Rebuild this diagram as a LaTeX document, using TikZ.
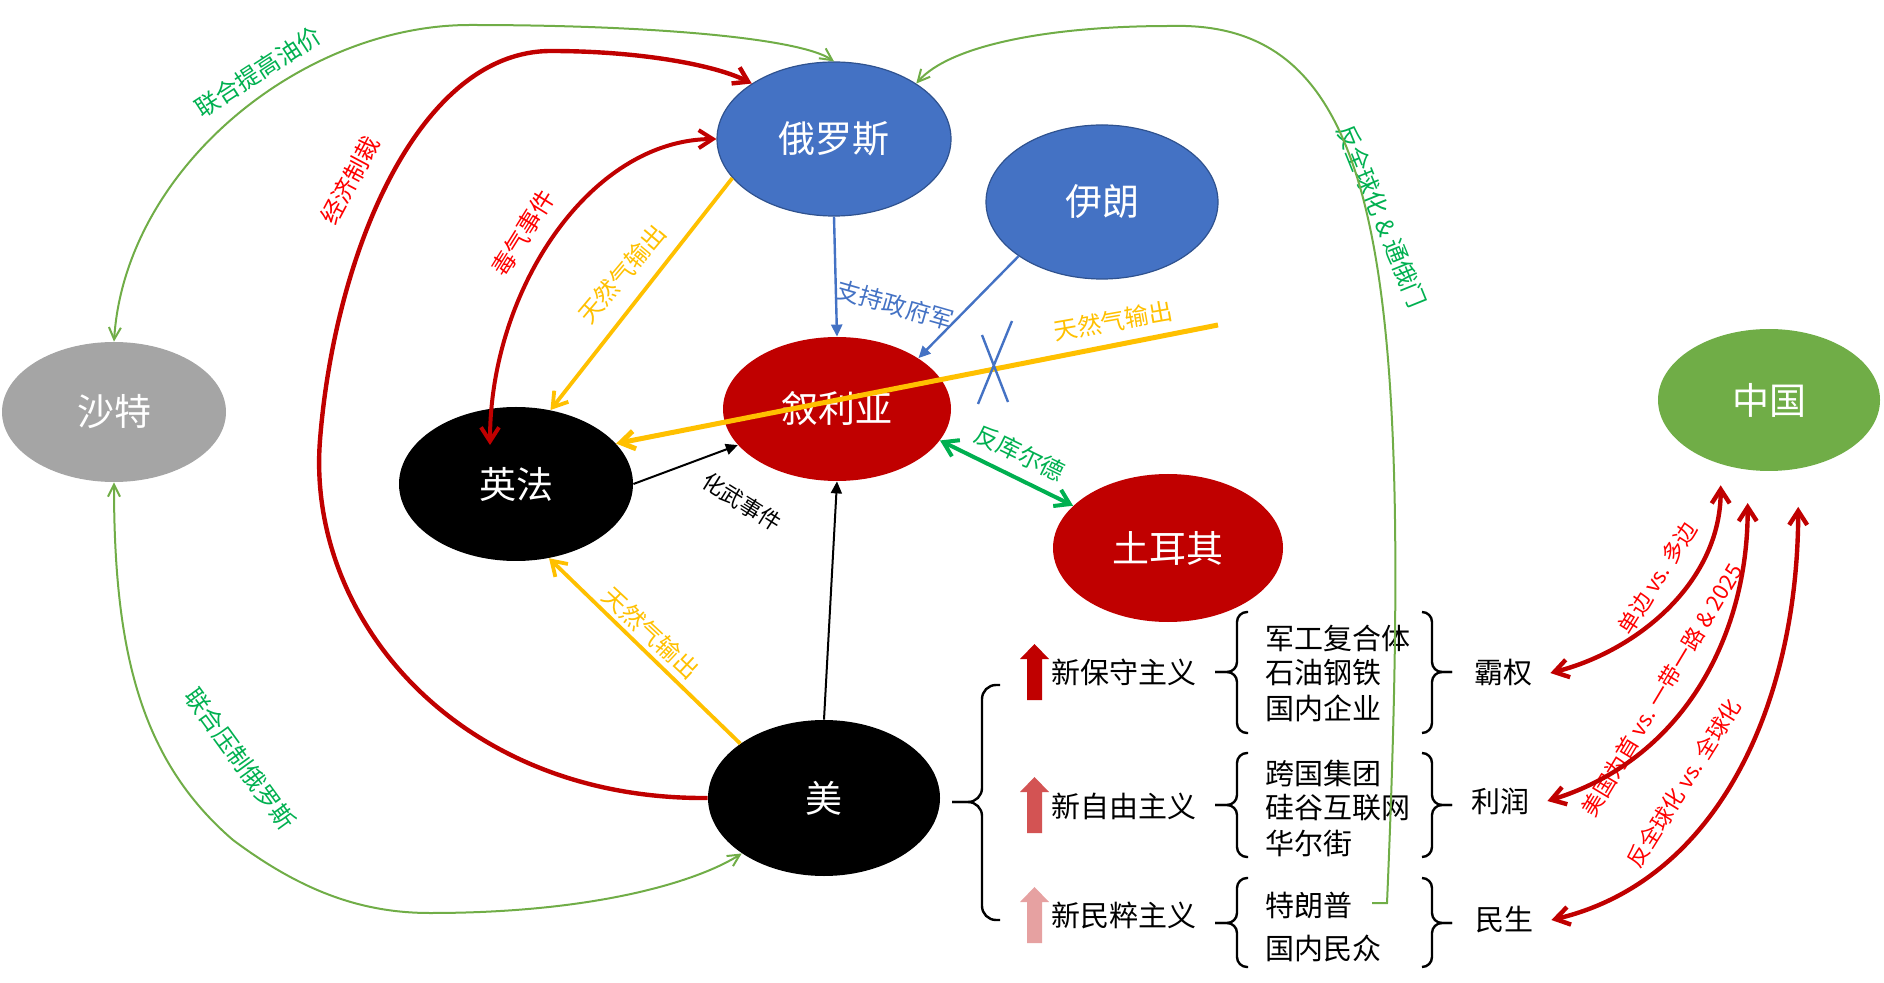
\documentclass[tikz,border=0pt]{standalone}
\usepackage{fontspec}
\setmainfont{Noto Sans CJK SC}
\usetikzlibrary{shapes.geometric,arrows.meta}

\definecolor{rusblue}{HTML}{4472C4}
\definecolor{blueedge}{HTML}{2F528F}
\definecolor{darkred}{HTML}{C00000}
\definecolor{midred}{HTML}{D35353}
\definecolor{palered}{HTML}{E6A1A1}
\definecolor{satgray}{HTML}{A5A5A5}
\definecolor{chngreen}{HTML}{70AD47}
\definecolor{txtgreen}{HTML}{00B050}
\definecolor{gasorange}{HTML}{FFC000}
\definecolor{txtred}{HTML}{FF0000}

\tikzset{
  country/.style={ellipse, inner sep=0pt, text=white, font=\fontsize{18.5}{22}\selectfont},
  lbl/.style={inner sep=0pt, font=\fontsize{12}{14}\selectfont},
  redlbl/.style={inner sep=0pt, text=txtred, font=\fontsize{11}{13}\selectfont},
  item/.style={anchor=west, inner sep=0pt, font=\fontsize{14.5}{17}\selectfont},
  goal/.style={inner sep=9pt, font=\fontsize{14.5}{17}\selectfont},
  gtip/.tip={Straight Barb[length=6pt,width=6pt]},
  otip/.tip={Straight Barb[length=7pt,width=9pt]},
  ttip/.tip={Triangle[length=6pt,width=5.5pt]},
  greenlink/.style={chngreen, line width=1pt, gtip-gtip},
  redlink/.style={darkred, line width=2.2pt, otip-otip},
  bracket/.style={line width=1.2pt, rounded corners=5pt}
}

\begin{document}
\begin{tikzpicture}[x=0.5pt, y=-0.5pt]
  \useasboundingbox (0,0) rectangle (1884,983);

  \node[country, fill=satgray, minimum width=112pt, minimum height=70pt] (sat) at (114,412) {沙特};
  \node[country, fill=rusblue, draw=blueedge, line width=0.6pt, minimum width=117pt, minimum height=77pt] (rus) at (834,139) {俄罗斯};
  \node[country, fill=rusblue, draw=blueedge, line width=0.6pt, minimum width=116pt, minimum height=77pt] (iran) at (1102,202) {伊朗};
  \node[country, fill=darkred, minimum width=114pt, minimum height=72pt] (syr) at (837,409) {叙利亚};
  \node[country, fill=black, minimum width=117pt, minimum height=77pt] (ukfr) at (516,484) {英法};
  \node[country, fill=black, minimum width=116pt, minimum height=78pt] (us) at (824,798) {美};
  \node[country, fill=darkred, minimum width=115pt, minimum height=74pt] (tur) at (1168,548) {土耳其};
  \node[country, fill=chngreen, minimum width=111pt, minimum height=71pt] (chn) at (1769,400) {中国};

  \node[item] (neocon) at (1051,672) {新保守主义};
  \node[item] (neolib) at (1051,806) {新自由主义};
  \node[item] (populist) at (1051,915) {新民粹主义};
  \node[item] (milind) at (1265,638) {军工复合体};
  \node[item] (oilsteel) at (1265,673) {石油钢铁};
  \node[item] (domfirm) at (1265,708) {国内企业};
  \node[item] (multinat) at (1265,773) {跨国集团};
  \node[item] (silicon) at (1265,808) {硅谷互联网};
  \node[item] (wallst) at (1265,843) {华尔街};
  \node[item] (trump) at (1265,905) {特朗普};
  \node[item] (public) at (1265,948) {国内民众};
  \node[goal] (hegemony) at (1503,673) {霸权};
  \node[goal] (profit) at (1500,801) {利润};
  \node[goal] (people) at (1504,920) {民生};

  \node[lbl, text=txtgreen, rotate=33] (oilprice) at (258,72) {联合提高油价};
  \node[lbl, text=txtred, rotate=62] (sanction) at (350,180) {经济制裁};
  \node[lbl, text=txtred, rotate=58] (poison) at (523,233) {毒气事件};
  \node[lbl, text=gasorange, rotate=50] (gasrus) at (622,274) {天然气输出};
  \node[lbl, text=rusblue, rotate=-16] (support) at (895,305) {支持政府军};
  \node[lbl, text=gasorange, rotate=10] (gasmid) at (1113,321) {天然气输出};
  \node[lbl, text=black, rotate=-32, font=\fontsize{11}{13}\selectfont] (chem) at (742,502) {化武事件};
  \node[lbl, text=gasorange, rotate=-43] (gasus) at (651,633) {天然气输出};
  \node[lbl, text=txtgreen, rotate=-54] (contain) at (240,759) {联合压制俄罗斯};
  \node[lbl, text=txtgreen, rotate=-68] (antiglob) at (1382,216) {反全球化 \& 通俄门};
  \node[lbl, text=txtgreen, rotate=-26] (kurd) at (1020,453) {反库尔德};
  \node[redlbl, rotate=58] (unimulti) at (1657,578) {单边 vs. 多边};
  \node[redlbl, rotate=59] (beltroad) at (1662,690) {美国为首 vs. 一带一路 \& 2025};
  \node[redlbl, rotate=58] (globvs) at (1684,783) {反全球化 vs. 全球化};

  \draw[greenlink] (sat.north) .. controls (125,170) and (300,25) .. (470,25) .. controls (650,25) and (800,38) .. (rus.north);
  \draw[greenlink] (sat.south) .. controls (114,650) and (140,760) .. (233,840) .. controls (300,890) and (360,913) .. (430,913) .. controls (600,913) and (700,880) .. (us.214);

  \draw[darkred, line width=2.2pt, -otip] (us.west) .. controls (460,800) and (306,620) .. (320,440) .. controls (335,250) and (420,51) .. (551,51) .. controls (640,51) and (715,65) .. (rus.146);
  \coordinate (ukin) at (490,445);
  \draw[darkred, line width=2pt, otip-otip] (ukin) .. controls (490,290) and (590,140) .. (rus.west);

  \draw[gasorange, line width=1.9pt, -otip] (rus.201) -- (ukfr.65);
  \draw[gasorange, line width=1.9pt, -otip] (us.147) -- (ukfr.294);
  \coordinate (gasfrom) at (1218,325);
  \draw[gasorange, line width=2.5pt, -otip] (gasfrom) -- (ukfr.22);
  \draw[rusblue, line width=1.2pt] (982,335) -- (1008,402) (1012,321) -- (978,404);

  \draw[rusblue, line width=1.2pt, -ttip] (rus.south) -- (syr.north);
  \draw[rusblue, line width=1.2pt, -ttip] (iran.213) -- (syr.32);
  \draw[line width=1pt, -ttip] (ukfr.east) -- (syr.200);
  \draw[line width=1pt, -ttip] (us.north) -- (syr.south);
  \draw[txtgreen, line width=2pt, otip-otip] (syr.343) -- (tur.156);

  \coordinate (tick) at (1372,903);
  \draw[chngreen, line width=1pt, -gtip] (tick) -- ++(15,0) .. controls (1415,250) and (1380,20) .. (1170,26) .. controls (1050,26) and (950,45) .. (rus.34);

  \draw[bracket, rounded corners=7pt] (1000,685) -- (982,685) -- (982,802) -- (952,802);
  \draw[bracket, rounded corners=7pt] (1000,920) -- (982,920) -- (982,802) -- (952,802);
  \foreach \ya/\ym/\yb in {612/672/733, 753/805/857, 878/923/967} {
    \draw[bracket] (1248,\ya) -- (1237,\ya) -- (1237,\ym) -- (1215,\ym);
    \draw[bracket] (1248,\yb) -- (1237,\yb) -- (1237,\ym) -- (1215,\ym);
    \draw[bracket] (1422,\ya) -- (1432,\ya) -- (1432,\ym) -- (1452,\ym);
    \draw[bracket] (1422,\yb) -- (1432,\yb) -- (1432,\ym) -- (1452,\ym);
  }
  \foreach \yt/\col in {644/darkred, 777/midred, 887/palered}
    \fill[\col] (1027,\yt+56) -- (1027,\yt+15) -- (1020,\yt+15) -- (1034.5,\yt) -- (1049,\yt+15) -- (1042,\yt+15) -- (1042,\yt+56) -- cycle;

  \draw[redlink, shorten >=10.5pt] (hegemony.east) .. controls (1640,650) and (1721,580) .. (chn.233);
  \draw[redlink, shorten >=16.5pt] (profit.east) .. controls (1680,760) and (1748,640) .. (chn.253);
  \draw[redlink, shorten >=19pt] (people.east) .. controls (1720,880) and (1798,700) .. (chn.293);
\end{tikzpicture}
\end{document}
